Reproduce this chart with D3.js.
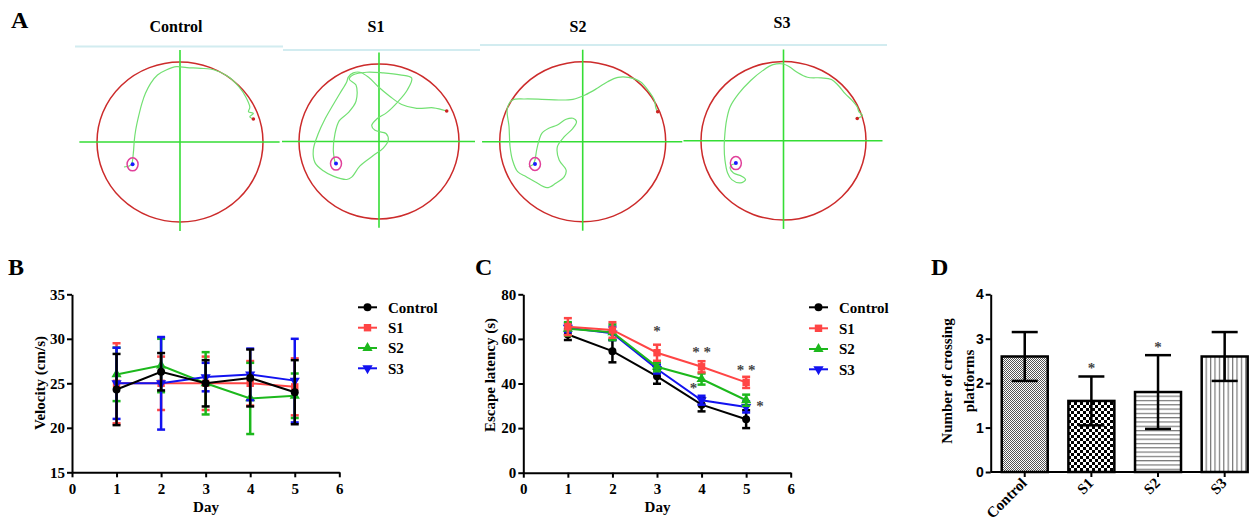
<!DOCTYPE html>
<html>
<head>
<meta charset="utf-8">
<script src="https://cdn.jsdelivr.net/npm/d3@7"></script>
<style>
  body { margin: 0; background: #fff; }
  svg text { font-family: "Liberation Serif", "Times New Roman", serif; font-weight: bold; }
  .axis path, .axis line { stroke: #000; stroke-width: 2; }
  .axis text { font-size: 15px; fill: #000; }
</style>
</head>
<body>
<svg id="fig" width="1256" height="526"></svg>
<script>
// ---- data ----
const groups = ["Control", "S1", "S2", "S3"];
const days = [1, 2, 3, 4, 5];
const dayTicks = [0, 1, 2, 3, 4, 5, 6];
const velocityTicks = [15, 20, 25, 30, 35];
const latencyTicks = [0, 20, 40, 60, 80];
const crossingTicks = [0, 1, 2, 3, 4];

// swim velocity (cm/s), mean and error per group per day
const velocityMeans = [
  [24.3, 26.3, 25.0, 25.6, 24.0],
  [25.0, 25.0, 25.0, 25.0, 24.6],
  [26.0, 27.0, 25.0, 23.3, 23.6],
  [25.0, 25.0, 25.7, 26.0, 25.3]
];
const velocityErrors = [
  [4.0, 2.1, 2.6, 3.2, 3.6],
  [4.5, 3.0, 3.0, 2.5, 3.2],
  [3.0, 3.0, 3.5, 4.0, 2.5],
  [4.0, 5.2, 1.6, 2.9, 4.7]
];

// escape latency (s)
const latencyMeans = [
  [62.0, 54.5, 43.2, 30.5, 24.0],
  [65.5, 64.0, 53.8, 47.5, 40.5],
  [64.5, 63.0, 47.5, 42.0, 32.5],
  [65.0, 62.5, 46.5, 32.5, 29.5]
];
const latencyErrors = [
  [2.5, 5.0, 3.3, 3.0, 4.0],
  [3.8, 3.5, 3.6, 2.5, 2.5],
  [3.0, 3.5, 2.0, 2.5, 2.5],
  [2.0, 3.0, 2.0, 2.0, 2.5]
];
// significance marks in C: [day, value, text]
const latencyStars = [[3, 64.7, "*"], [4, 55.5, "* *"], [5, 47.5, "* *"], [3.82, 39.3, "*"], [5.31, 31.4, "*"]];

// number of platform crossings
const crossingMeans = [2.6, 1.6, 1.8, 2.6];
const crossingErrors = [0.55, 0.55, 0.83, 0.55];
const crossingStars = [["S1", 2.41], ["S2", 2.88]];

// swim tracks (pool units, radius 80, y down)
const trackControl = [[-54, 25], [-49, 24], [-46.7, 22.3], [-45, 11.3], [-44, -2], [-42.7, -12], [-40, -25.3], [-36.7, -38.7],
  [-33.3, -48.7], [-28.3, -58.7], [-21.7, -67], [-13.3, -72], [-3.3, -75.3], [6.7, -74.3], [20, -73.7], [33.3, -72],
  [46.7, -65.3], [56.7, -55.3], [63.3, -45.3], [67.3, -34.7], [66, -30.3], [70.7, -28.7], [67.3, -25.3], [70.7, -23]];
const trackS1 = [[67.7, -31.5], [54.3, -34.8], [37.7, -34.2], [22.7, -38.2], [11, -46.5], [-0.7, -56.5], [-10.7, -66.5],
  [-19, -71.5], [-25.7, -70.8], [-30.7, -66.5], [-32.3, -61.5], [-39, -49.8], [-45.7, -38.2], [-54, -23.2], [-60.7, -8.2],
  [-65.7, 8.5], [-64, 21.8], [-55.7, 30.2], [-45.7, 35.8], [-32.3, 39.2], [-27.3, 36.8], [-19, 25.2], [-5.7, 14.5],
  [4.3, 6.8], [9.3, -1.5], [7, -8.2], [-4, -11.5], [-7.3, -16.5], [-2.3, -23.2], [7.7, -29.8], [19.3, -41.5],
  [28.3, -53.2], [32.7, -65.5], [21, -68.8], [4.3, -70.8], [-12.3, -71.5], [-25.7, -68.8], [-29.7, -64.2], [-23, -58.2],
  [-23, -41.5], [-30.7, -29.8], [-39.7, -21.5], [-44, -8.2], [-45.7, 8.5], [-44, 21.8]];
const trackS2 = [[72.3, -30], [70.6, -33.4], [69, -41.7], [64, -50], [55.6, -60], [44, -64.4], [34, -64.4], [24, -60],
  [14, -53.4], [2.3, -46.7], [-9.4, -42.4], [-22.7, -41.7], [-39.4, -42.4], [-56, -42.7], [-67.7, -41.7], [-72.7, -33.4],
  [-71, -15], [-70, 5], [-67.7, 18.3], [-62.7, 30], [-54.4, 35], [-46, 40], [-34.4, 46], [-26, 41.6], [-17.7, 35],
  [-16, 28.3], [-22.7, 18.3], [-24.4, 5], [-17.7, -5], [-9.4, -13.4], [-6, -20], [-9.4, -23.4], [-16, -22.4],
  [-24.4, -16.7], [-32.7, -13.4], [-39.4, -8.4], [-42, -1.7], [-44.4, 8.3], [-46, 18.3], [-47.7, 22.6], [-52, 25]];
const trackS3 = [[71.5, -22.4], [76.5, -25.7], [73.2, -29], [71.5, -34], [66.5, -40.7], [59.8, -47.4], [53.2, -55.7],
  [46.5, -61.7], [36.5, -63.4], [23.2, -64], [13.2, -69], [6.5, -74], [-0.2, -77.4], [-10.2, -76.7], [-20.2, -70.7],
  [-31.8, -60.7], [-43.5, -47.4], [-51.8, -34], [-55.2, -20.7], [-56.8, -7.4], [-57.5, 6], [-56.8, 19.3], [-54.2, 32.6],
  [-50.2, 39.3], [-41.8, 42.6], [-36.8, 39.3], [-40.2, 36], [-48.5, 32.6], [-51.8, 27.6], [-50.2, 24.3], [-46.8, 23.3]];
const tracks = [trackControl, trackS1, trackS2, trackS3];
const platformPos = [[-45.7, 22.3], [-43, 22.8], [-46, 22.3], [-46.2, 22.6]];
const startPos = [[70.7, -23], [67.7, -31.5], [72.3, -30], [71.5, -22.4]];

// ---- layout ----
const svg = d3.select("#fig");
svg.append("rect").attr("width", 1256).attr("height", 526).attr("fill", "#fff");

const colors = ["#000000", "#ff4545", "#1cb81c", "#1212f0"];
const symbols = [d3.symbolCircle, d3.symbolSquare, d3.symbolTriangle, d3.symbolTriangle];
const symbolSizes = [50, 55, 45, 45];
const intFmt = d3.format("d");

function panelLabel(t, x, y) {
  svg.append("text").attr("x", x).attr("y", y).attr("font-size", 24).text(t);
}
panelLabel("A", 11, 28);
panelLabel("B", 8, 275);
panelLabel("C", 475, 275);
panelLabel("D", 931, 275);

// ---- panel A: swim paths ----
const pools = [
  { cx: 180, cy: 142, rx: 83, ry: 80, tx: 176, ty: 31.7 },
  { cx: 379, cy: 141.5, rx: 80, ry: 77.5, tx: 376, ty: 31.7 },
  { cx: 582.7, cy: 141.7, rx: 83, ry: 80, tx: 578, ty: 31.7 },
  { cx: 783.5, cy: 140.7, rx: 82.5, ry: 79.3, tx: 782, ty: 28.3 }
];

// faint frame lines above the tracking images
[[75, 283, 46.5], [283, 480, 50], [480, 887, 45]].forEach(s => {
  svg.append("line").attr("x1", s[0]).attr("x2", s[1]).attr("y1", s[2]).attr("y2", s[2])
    .attr("stroke", "#d2ecf0").attr("stroke-width", 2);
});

pools.forEach((p, i) => {
  const sx = d3.scaleLinear().domain([-80, 80]).range([p.cx - p.rx, p.cx + p.rx]);
  const sy = d3.scaleLinear().domain([-80, 80]).range([p.cy - p.ry, p.cy + p.ry]);
  const g = svg.append("g");

  svg.append("text").attr("x", p.tx).attr("y", p.ty).attr("text-anchor", "middle")
    .attr("font-size", 16).text(groups[i]);

  g.append("ellipse").attr("cx", sx(0)).attr("cy", sy(0)).attr("rx", p.rx).attr("ry", p.ry)
    .attr("fill", "none").attr("stroke", "#cc2b2b").attr("stroke-width", 1.5);
  g.append("line").attr("x1", sx(-97)).attr("x2", sx(96)).attr("y1", sy(0)).attr("y2", sy(0))
    .attr("stroke", "#35dd35").attr("stroke-width", 1.6);
  g.append("line").attr("x1", sx(0)).attr("x2", sx(0)).attr("y1", sy(-92)).attr("y2", sy(89))
    .attr("stroke", "#35dd35").attr("stroke-width", 1.6);

  g.append("path").datum(tracks[i])
    .attr("d", d3.line().x(d => sx(d[0])).y(d => sy(d[1])).curve(d3.curveCatmullRom))
    .attr("fill", "none").attr("stroke", "#72e072").attr("stroke-width", 1.2);

  g.append("ellipse").attr("cx", sx(platformPos[i][0])).attr("cy", sy(platformPos[i][1]))
    .attr("rx", 5.5).attr("ry", 6.5).attr("fill", "none").attr("stroke", "#e0409a").attr("stroke-width", 1.5);
  g.append("circle").attr("cx", sx(platformPos[i][0])).attr("cy", sy(platformPos[i][1])).attr("r", 2)
    .attr("fill", "#1a1aff");
  g.append("circle").attr("cx", sx(startPos[i][0])).attr("cy", sy(startPos[i][1])).attr("r", 1.8)
    .attr("fill", "#cc2222");
});

// ---- helpers for B and C ----
function drawAxes(xs, ys, yTicks) {
  svg.append("g").attr("class", "axis")
    .attr("transform", `translate(0,${ys.range()[0]})`)
    .call(d3.axisBottom(xs).tickValues(dayTicks).tickFormat(intFmt).tickSize(5).tickSizeOuter(0).tickPadding(6));
  svg.append("g").attr("class", "axis")
    .attr("transform", `translate(${xs.range()[0]},0)`)
    .call(d3.axisLeft(ys).tickValues(yTicks).tickFormat(intFmt).tickSize(5).tickSizeOuter(0).tickPadding(2));
}

function drawSeries(xs, ys, means, errs, order) {
  order.forEach(i => {
    const g = svg.append("g");
    const col = colors[i];
    days.forEach((d, j) => {
      const x = xs(d);
      const lo = ys(means[i][j] - errs[i][j]);
      const hi = ys(means[i][j] + errs[i][j]);
      g.append("line").attr("x1", x).attr("x2", x).attr("y1", lo).attr("y2", hi)
        .attr("stroke", col).attr("stroke-width", 2.5);
      [lo, hi].forEach(y => g.append("line").attr("x1", x - 4).attr("x2", x + 4).attr("y1", y).attr("y2", y)
        .attr("stroke", col).attr("stroke-width", 2.5));
    });
    g.append("path").datum(days.map((d, j) => [d, means[i][j]]))
      .attr("d", d3.line().x(d => xs(d[0])).y(d => ys(d[1])))
      .attr("fill", "none").attr("stroke", col).attr("stroke-width", 2);
    g.selectAll("path.mk").data(days.map((d, j) => [d, means[i][j]])).join("path")
      .attr("class", "mk")
      .attr("transform", d => `translate(${xs(d[0])},${ys(d[1])})` + (i === 3 ? " rotate(180)" : ""))
      .attr("d", d3.symbol(symbols[i], symbolSizes[i]))
      .attr("fill", col);
  });
}

function drawLegend(x0, rows) {
  groups.forEach((name, i) => {
    const y = rows[i];
    svg.append("line").attr("x1", x0).attr("x2", x0 + 19).attr("y1", y).attr("y2", y)
      .attr("stroke", colors[i]).attr("stroke-width", 2);
    svg.append("path").attr("transform", `translate(${x0 + 9.5},${y})` + (i === 3 ? " rotate(180)" : ""))
      .attr("d", d3.symbol(symbols[i], symbolSizes[i])).attr("fill", colors[i]);
    svg.append("text").attr("x", x0 + 30).attr("y", y).attr("dy", "0.35em")
      .attr("font-size", 15).text(name);
  });
}

function yTitle(lines, x, y, gap) {
  lines.forEach((t, k) => {
    svg.append("text").attr("transform", `translate(${x + k * gap},${y}) rotate(-90)`)
      .attr("text-anchor", "middle").attr("font-size", 15).text(t);
  });
}

// ---- panel B ----
const xB = d3.scaleLinear().domain([0, 6]).range([72, 339.3]);
const yB = d3.scaleLinear().domain([15, 35]).range([472.3, 294.3]);
drawAxes(xB, yB, velocityTicks);
drawSeries(xB, yB, velocityMeans, velocityErrors, [1, 2, 3, 0]);
drawLegend(358, [307.3, 327.7, 348, 368.3]);
yTitle(["Velocity (cm/s)"], 45, 383, 0);
svg.append("text").attr("x", 206).attr("y", 512).attr("text-anchor", "middle").attr("font-size", 15).text("Day");

// ---- panel C ----
const xC = d3.scaleLinear().domain([0, 6]).range([523.3, 790.7]);
const yC = d3.scaleLinear().domain([0, 80]).range([472.7, 294.3]);
drawAxes(xC, yC, latencyTicks);
drawSeries(xC, yC, latencyMeans, latencyErrors, [0, 3, 2, 1]);
drawLegend(809, [307.3, 328.3, 349, 369.3]);
yTitle(["Escape latency (s)"], 495, 375, 0);
svg.append("text").attr("x", 657.5).attr("y", 512).attr("text-anchor", "middle").attr("font-size", 15).text("Day");
latencyStars.forEach(s => {
  svg.append("text").attr("x", xC(s[0])).attr("y", yC(s[1])).attr("dy", "0.53em")
    .attr("text-anchor", "middle").attr("font-size", 15).attr("font-weight", "normal")
    .attr("fill", "#444").text(s[2]);
});

// ---- panel D ----
const defs = svg.append("defs");
function pattern(id, w, h, draw) {
  const p = defs.append("pattern").attr("id", id).attr("patternUnits", "userSpaceOnUse")
    .attr("width", w).attr("height", h);
  p.append("rect").attr("width", w).attr("height", h).attr("fill", "#fff");
  draw(p);
}
pattern("pControl", 2, 2, p => {
  p.append("rect").attr("width", 1).attr("height", 1).attr("fill", "#555");
  p.append("rect").attr("x", 1).attr("y", 1).attr("width", 1).attr("height", 1).attr("fill", "#555");
});
pattern("pS1", 6, 6, p => {
  p.append("rect").attr("width", 3).attr("height", 3).attr("fill", "#000");
  p.append("rect").attr("x", 3).attr("y", 3).attr("width", 3).attr("height", 3).attr("fill", "#000");
});
pattern("pS2", 8, 4.3, p => {
  p.append("rect").attr("width", 8).attr("height", 1.2).attr("fill", "#777");
});
pattern("pS3", 4.4, 8, p => {
  p.append("rect").attr("width", 1.2).attr("height", 8).attr("fill", "#777");
});
const fills = ["url(#pControl)", "url(#pS1)", "url(#pS2)", "url(#pS3)"];

const xD = d3.scaleBand().domain(groups).range([991.4, 1258]).paddingInner(0.31).paddingOuter(0.155);
const yD = d3.scaleLinear().domain([0, 4]).range([472, 294.3]);

svg.selectAll("rect.bar").data(groups).join("rect").attr("class", "bar")
  .attr("x", d => xD(d)).attr("width", xD.bandwidth())
  .attr("y", (d, i) => yD(crossingMeans[i])).attr("height", (d, i) => yD(0) - yD(crossingMeans[i]))
  .attr("fill", (d, i) => fills[i]).attr("stroke", "#000").attr("stroke-width", 2.5);

groups.forEach((gname, i) => {
  const x = xD(gname) + xD.bandwidth() / 2;
  const lo = yD(crossingMeans[i] - crossingErrors[i]);
  const hi = yD(crossingMeans[i] + crossingErrors[i]);
  svg.append("line").attr("x1", x).attr("x2", x).attr("y1", lo).attr("y2", hi)
    .attr("stroke", "#000").attr("stroke-width", 2.5);
  [lo, hi].forEach(y => svg.append("line").attr("x1", x - 13).attr("x2", x + 13).attr("y1", y).attr("y2", y)
    .attr("stroke", "#000").attr("stroke-width", 2.5));
});

const gxD = svg.append("g").attr("class", "axis").attr("transform", `translate(0,${yD(0)})`)
  .call(d3.axisBottom(xD).tickSize(5).tickSizeOuter(0).tickFormat(""));
gxD.select(".domain").remove();
gxD.append("line").attr("x1", 990.7).attr("x2", 1248).attr("stroke", "#000").attr("stroke-width", 2);
groups.forEach(gname => {
  const x = xD(gname) + xD.bandwidth() / 2;
  svg.append("text").attr("transform", `translate(${x + 3},${yD(0) + 12}) rotate(-45)`)
    .attr("text-anchor", "end").attr("font-size", 15).text(gname);
});

const gyD = svg.append("g").attr("class", "axis").attr("transform", "translate(990.7,0)")
  .call(d3.axisLeft(yD).tickValues(crossingTicks).tickFormat(intFmt).tickSize(5).tickSizeOuter(0).tickPadding(2));
gyD.selectAll("text").style("font-family", "'Liberation Sans', Arial, sans-serif").style("font-size", "14px");

yTitle(["Number of crossing", "platforms"], 952, 381, 22);
crossingStars.forEach(s => {
  svg.append("text").attr("x", xD(s[0]) + xD.bandwidth() / 2).attr("y", yD(s[1])).attr("dy", "0.53em")
    .attr("text-anchor", "middle").attr("font-size", 15).attr("font-weight", "normal")
    .attr("fill", "#444").text("*");
});
</script>
</body>
</html>
